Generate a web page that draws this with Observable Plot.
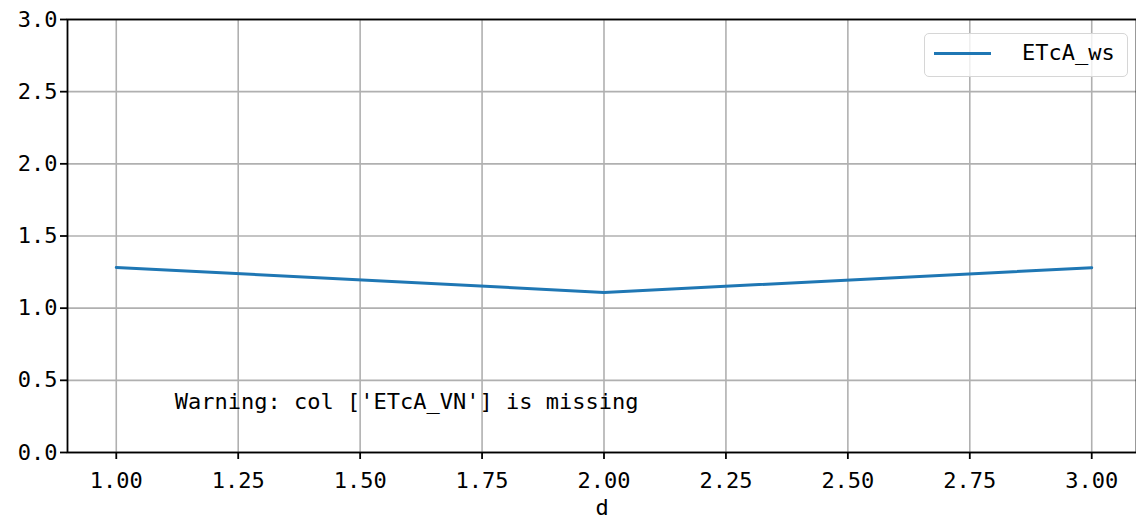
<!DOCTYPE html>
<html>
<head>
<meta charset="utf-8">
<script src="https://cdn.jsdelivr.net/npm/d3@7"></script>
<script src="https://cdn.jsdelivr.net/npm/@observablehq/plot@0.6"></script>
<style>
  body { margin: 0; background: #fff; }
  #chart { position: relative; width: 1136px; height: 522px; overflow: hidden; }
  #legend {
    position: absolute; left: 924px; top: 33px; width: 204px; height: 44px;
    border: 1.6px solid #d6d6d6; border-radius: 5px; background: rgba(255,255,255,0.8);
    box-sizing: border-box; font-family: "DejaVu Sans Mono", monospace; font-size: 22px;
  }
  #legend .sw { position: absolute; left: 9px; top: 18px; width: 57px; height: 3px; background: #1f77b4; }
  #legend .lb { position: absolute; left: 97px; top: 5px; line-height: 28px; color: #000; }
</style>
</head>
<body>
<div id="chart"></div>
<script>
const d = [1, 2, 3];
const etcaWs = [1.282, 1.109, 1.280];
const seriesName = "ETcA_ws";
const xTicks = [1.00, 1.25, 1.50, 1.75, 2.00, 2.25, 2.50, 2.75, 3.00];
const yTicks = [0.0, 0.5, 1.0, 1.5, 2.0, 2.5, 3.0];
const warning = "Warning: col ['ETcA_VN'] is missing";

const data = d.map((v, i) => ({d: v, y: etcaWs[i]}));
const font = "DejaVu Sans Mono, monospace";

const plot = Plot.plot({
  width: 1136,
  height: 522,
  marginLeft: 67,
  marginTop: 19,
  marginBottom: 70,
  marginRight: 0,
  style: {fontFamily: font, fontSize: "22px", background: "#fff", color: "#000"},
  x: {domain: [0.9, 3.1], range: [67, 1140]},
  y: {domain: [0, 3], range: [452, 19]},
  marks: [
    Plot.gridX(xTicks, {stroke: "#b0b0b0", strokeOpacity: 1, strokeWidth: 1.6}),
    Plot.gridY(yTicks, {stroke: "#b0b0b0", strokeOpacity: 1, strokeWidth: 1.6}),
    Plot.line(data, {x: "d", y: "y", stroke: "#1f77b4", strokeWidth: 3}),
    Plot.text([warning], {x: 1.12, y: 0.3, text: d => d, textAnchor: "start", lineAnchor: "bottom", fontSize: 22, fill: "#000"}),
    Plot.axisX(xTicks, {tickSize: 7, tickPadding: 13, tickFormat: d3.format(".2f"), label: "d", labelAnchor: "center", labelArrow: "none", labelOffset: 62, strokeWidth: 1.8}),
    Plot.axisY(yTicks, {tickSize: 7, tickPadding: 3, tickFormat: d3.format(".1f"), label: null, strokeWidth: 1.8}),
    Plot.frame({stroke: "#000", strokeWidth: 1.8})
  ]
});
const chart = document.getElementById("chart");
chart.appendChild(plot);
const lg = document.createElement("div");
lg.id = "legend";
lg.innerHTML = `<div class="sw"></div><div class="lb">${seriesName}</div>`;
chart.appendChild(lg);
</script>
</body>
</html>
